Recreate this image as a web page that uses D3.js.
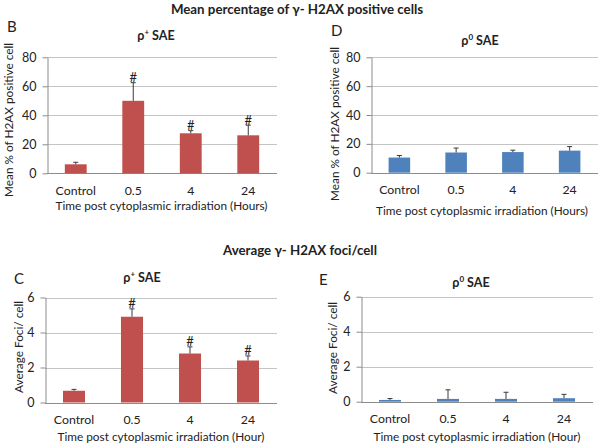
<!DOCTYPE html>
<html><head><meta charset="utf-8">
<script src="https://cdn.jsdelivr.net/npm/d3@7"></script>
<style>
body{margin:0;background:#fff;}
svg text{font-family:Lato,"Open Sans",sans-serif;fill:#222;}
</style></head>
<body><svg id="c" width="604" height="448"></svg>
<script>
// ---- data ----
const categories = ["Control", "0.5", "4", "24"];
const pctTicks = [0, 20, 40, 60, 80];
const fociTicks = [0, 2, 4, 6];
const pctRhoPlus = [6.2, 50, 27.6, 26.2];
const pctRhoPlusErr = [1.4, 12.5, 1.8, 7];
const pctRhoPlusSig = [false, true, true, true];
const pctRhoZero = [10.5, 14, 14.3, 15.3];
const pctRhoZeroErr = [1.4, 3.1, 1.3, 2.8];
const pctRhoZeroSig = [false, false, false, false];
const fociRhoPlus = [0.67, 4.9, 2.8, 2.4];
const fociRhoPlusErr = [0.08, 0.45, 0.38, 0.26];
const fociRhoPlusSig = [false, true, true, true];
const fociRhoZero = [0.1, 0.16, 0.16, 0.2];
const fociRhoZeroErr = [0.08, 0.52, 0.38, 0.22];
const fociRhoZeroSig = [false, false, false, false];
const titleTop = "Mean percentage of \u03b3- H2AX positive cells";
const titleBottom = "Average \u03b3- H2AX foci/cell";
const yTitlePct = "Mean % of H2AX positive cell";
const yTitleFoci = "Average Foci/ cell";
const xTitleHours = "Time post cytoplasmic irradiation (Hours)";
const xTitleHour = "Time post cytoplasmic irradiation (Hour)";

const svg = d3.select("#c");
const RED = "#c0504d", BLUE = "#4f81bd";
const FS = 11.8;

function text(x, y, s, opt = {}) {
  const t = svg.append("text").attr("x", x).attr("y", y)
    .attr("text-anchor", opt.anchor || "middle")
    .style("font-size", (opt.size || FS) + "px")
    .style("font-weight", opt.bold ? "bold" : "normal");
  if (opt.rotate) t.attr("transform", `rotate(-90,${x},${y})`);
  t.text(s);
  return t;
}

function panel(p) {
  const x = d3.scaleBand().domain(categories).range([p.x0, p.x1])
    .paddingInner(0.62).paddingOuter(0.31);
  const y = d3.scaleLinear().domain([0, p.ticks[p.ticks.length - 1]]).range([p.yb, p.yt]);
  const g = svg.append("g");
  // gridlines
  g.selectAll("line.grid").data(p.ticks).join("line")
    .attr("x1", p.x0).attr("x2", p.x1)
    .attr("y1", d => Math.round(y(d)) + 0.5).attr("y2", d => Math.round(y(d)) + 0.5)
    .attr("stroke", d => d === 0 ? "#8c8c8c" : "#c4c4c4").attr("stroke-width", 1);
  // y axis
  const ax = g.append("g").attr("transform", `translate(${Math.round(p.x0) + 0.5},0)`)
    .call(d3.axisLeft(y).tickValues(p.ticks).tickFormat(d3.format("d"))
      .tickSize(5).tickSizeOuter(0).tickPadding(6));
  ax.select(".domain").attr("stroke", "#8c8c8c");
  ax.selectAll(".tick line").attr("stroke", "#8c8c8c");
  ax.selectAll(".tick text").style("font-family", "Lato,'Open Sans',sans-serif")
    .style("font-size", "12.5px").attr("fill", "#222");
  // bars
  g.selectAll("rect.bar").data(p.values).join("rect")
    .attr("x", (d, i) => x(categories[i])).attr("width", x.bandwidth())
    .attr("y", d => y(d)).attr("height", d => y(0) - y(d)).attr("fill", p.color);
  // error bars (upper)
  const eb = g.selectAll("g.err").data(p.values).join("g");
  eb.append("line")
    .attr("x1", (d, i) => x(categories[i]) + x.bandwidth() / 2)
    .attr("x2", (d, i) => x(categories[i]) + x.bandwidth() / 2)
    .attr("y1", d => y(d)).attr("y2", (d, i) => y(d + p.errs[i]))
    .attr("stroke", "#3a3a3a").attr("stroke-width", 1);
  eb.append("line")
    .attr("x1", (d, i) => x(categories[i]) + x.bandwidth() / 2 - 2.5)
    .attr("x2", (d, i) => x(categories[i]) + x.bandwidth() / 2 + 2.5)
    .attr("y1", (d, i) => y(d + p.errs[i])).attr("y2", (d, i) => y(d + p.errs[i]))
    .attr("stroke", "#3a3a3a").attr("stroke-width", 1);
  // significance marks
  p.values.forEach((d, i) => {
    if (p.sig[i]) text(x(categories[i]) + x.bandwidth() / 2, y(d + p.errs[i]) - 0.5, "#", {size: 13});
  });
  // x tick labels
  categories.forEach(c => text(x(c) + x.bandwidth() / 2, p.xtickY, c, {size: 12.3}));
  // titles
  text(p.xTitle[0], p.xTitle[1], p.xTitle[2]);
  text(p.yTitle[0], p.yTitle[1], p.yTitle[2], {rotate: true});
  text(p.letter[0], p.letter[1], p.letter[2], {size: 15, anchor: "start"});
  const st = svg.append("text").attr("x", p.sub[0]).attr("y", p.sub[1]).attr("text-anchor", "middle")
    .style("font-size", "12.5px").style("font-weight", "bold");
  st.append("tspan").text("\u03c1");
  st.append("tspan").attr("dy", -5).style("font-size", "8px").text(p.sub[2]);
  st.append("tspan").attr("dy", 5).text(" SAE");
}

text(297, 14, titleTop, {size: 13.3, bold: true});
text(300, 255, titleBottom, {size: 13.3, bold: true});

panel({x0: 47, x1: 277, yt: 57.3, yb: 173.3, ticks: pctTicks, values: pctRhoPlus, errs: pctRhoPlusErr,
  sig: pctRhoPlusSig, color: RED, xtickY: 195, xTitle: [161.5, 210, xTitleHours],
  yTitle: [13, 120, yTitlePct], letter: [7, 32, "B"], sub: [156, 40, "+"]});
panel({x0: 371, x1: 598, yt: 57.3, yb: 172.7, ticks: pctTicks, values: pctRhoZero, errs: pctRhoZeroErr,
  sig: pctRhoZeroSig, color: BLUE, xtickY: 194, xTitle: [482, 215, xTitleHours],
  yTitle: [339, 124, yTitlePct], letter: [331, 36, "D"], sub: [480, 45, "0"]});
panel({x0: 45, x1: 277, yt: 297.5, yb: 402.5, ticks: fociTicks, values: fociRhoPlus, errs: fociRhoPlusErr,
  sig: fociRhoPlusSig, color: RED, xtickY: 424, xTitle: [161, 440.5, xTitleHour],
  yTitle: [23, 347, yTitleFoci], letter: [14, 284, "C"], sub: [142, 282, "+"]});
panel({x0: 361, x1: 593, yt: 296.7, yb: 401.7, ticks: fociTicks, values: fociRhoZero, errs: fociRhoZeroErr,
  sig: fociRhoZeroSig, color: BLUE, xtickY: 423, xTitle: [477, 440.5, xTitleHour],
  yTitle: [337, 348, yTitleFoci], letter: [319, 285, "E"], sub: [471, 287, "0"]});
</script></body></html>
